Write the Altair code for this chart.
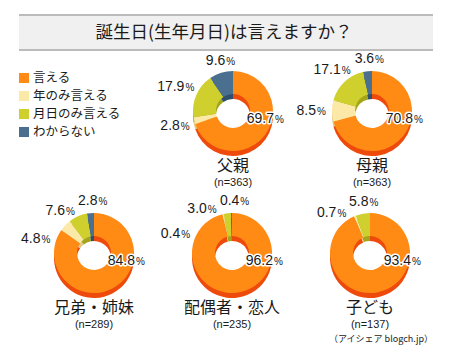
import math
import altair as alt
import pandas as pd

# ---------------- data ----------------
title_text = "誕生日(生年月日)は言えますか？"
source_text = "（アイシェア blogch.jp）"
categories = ["言える", "年のみ言える", "月日のみ言える", "わからない"]
persons = ["父親", "母親", "兄弟・姉妹", "配偶者・恋人", "子ども"]
n_values = [363, 363, 289, 235, 137]
say_all = [69.7, 70.8, 84.8, 96.2, 93.4]
year_only = [2.8, 8.5, 4.8, 0.4, 0.7]
month_day_only = [17.9, 17.1, 7.6, 3.0, 5.8]
unknown = [9.6, 3.6, 2.8, 0.4, 0.0]

# ---------------- style ----------------
colors = ["#FF8A14", "#FCE9A8", "#CFCF2E", "#4B6F8E"]
side_colors = ["#EE4A0C", "#E2CB80", "#A5A51C", "#2F4F6A"]
JP = "Noto Sans CJK JP"
NUM = "Liberation Sans"
PANEL_W, PANEL_H = 138, 142
CX, CY = 75, 60
R_OUT, R_IN, DEPTH = 40, 17, 5
LABEL_RX, LABEL_RY = 64, 52
MAIN_R, MAIN_POS, SEP = 34, 29.0, 10.0
NAME_Y, N_Y = 115, 132


def ellipse_radius(pos):
    a = pos / 100 * 2 * math.pi
    return 1 / math.sqrt((math.sin(a) / LABEL_RX) ** 2 + (math.cos(a) / LABEL_RY) ** 2)


# ---------------- derived table ----------------
series = [say_all, year_only, month_day_only, unknown]
rows = []
for i, p in enumerate(persons):
    vals = [s[i] for s in series]
    total = sum(vals)
    acc = 0.0
    segs = []
    for c, v in zip(categories, vals):
        segs.append(dict(person=p, category=c, value=v,
                         start=acc / total * 100, end=(acc + v) / total * 100,
                         label=f"{v:.1f}"))
        acc += v
    segs[0]["lpos"], segs[0]["lrad"] = MAIN_POS, MAIN_R
    upper = None
    for seg in reversed([s for s in segs[1:] if s["value"] > 0]):
        mid = (seg["start"] + seg["end"]) / 2
        pos = mid if upper is None else min(mid, upper - SEP)
        seg["lpos"], seg["lrad"] = pos, ellipse_radius(pos)
        upper = pos
    rows.extend(segs)
df = pd.DataFrame(rows)
people_df = pd.DataFrame({"person": persons, "nlab": [f"(n={n})" for n in n_values]})

theta_scale = alt.Scale(domain=[0, 100], range=[0, 2 * math.pi])
color_enc = alt.Color("category:N", scale=alt.Scale(domain=categories, range=colors), legend=None)
fill_side = alt.Fill("category:N", scale=alt.Scale(domain=categories, range=side_colors), legend=None)


def donut(p):
    base = alt.Chart(df).transform_filter(alt.datum.person == p)
    side = base.mark_arc(radius=R_OUT, radius2=R_IN).encode(
        theta=alt.Theta("start:Q", scale=theta_scale, stack=None),
        theta2="end:Q", fill=fill_side,
        x=alt.value(CX), y=alt.value(CY + DEPTH))
    top = base.mark_arc(radius=R_OUT, radius2=R_IN).encode(
        theta=alt.Theta("start:Q", scale=theta_scale, stack=None),
        theta2="end:Q", color=color_enc,
        x=alt.value(CX), y=alt.value(CY))
    lab = base.transform_filter("datum.value > 0")
    pos = dict(theta=alt.Theta("lpos:Q", scale=theta_scale),
               radius=alt.Radius("lrad:Q", scale=None),
               x=alt.value(CX), y=alt.value(CY))
    num_halo = lab.mark_text(align="right", baseline="middle", dx=8, font=NUM, fontSize=14,
                             color="white", stroke="white", strokeWidth=3,
                             strokeJoin="round").encode(text="label:N", **pos)
    pct_halo = lab.mark_text(align="left", baseline="middle", dx=9, dy=1, font=NUM, fontSize=10,
                             color="white", stroke="white", strokeWidth=3,
                             strokeJoin="round").encode(text=alt.value("%"), **pos)
    num = lab.mark_text(align="right", baseline="middle", dx=8, font=NUM, fontSize=14,
                        color="#1a1a1a").encode(text="label:N", **pos)
    pct = lab.mark_text(align="left", baseline="middle", dx=9, dy=1, font=NUM, fontSize=10,
                        color="#1a1a1a").encode(text=alt.value("%"), **pos)
    pbase = alt.Chart(people_df).transform_filter(alt.datum.person == p)
    name = pbase.mark_text(font=JP, fontSize=16, color="#1a1a1a", baseline="middle").encode(
        text="person:N", x=alt.value(CX), y=alt.value(NAME_Y))
    nlab = pbase.mark_text(font=NUM, fontSize=11, color="#1a1a1a", baseline="middle").encode(
        text="nlab:N", x=alt.value(CX), y=alt.value(N_Y))
    return alt.layer(side, top, num_halo, pct_halo, num, pct, name, nlab).properties(
        width=PANEL_W, height=PANEL_H)


# legend panel
legend_df = pd.DataFrame({"category": categories})
leg_y = alt.Y("category:N", sort=categories, axis=None,
              scale=alt.Scale(type="point", range=[27, 81], padding=0))
leg_sq = alt.Chart(legend_df).mark_square(size=100, opacity=1).encode(
    y=leg_y, x=alt.value(5), color=color_enc)
leg_tx = alt.Chart(legend_df).mark_text(align="left", baseline="middle", font=JP, fontSize=12.5,
                                        color="#1a1a1a").encode(
    y=leg_y, x=alt.value(14), text="category:N")
legend_panel = alt.layer(leg_sq, leg_tx).properties(width=PANEL_W, height=PANEL_H)

# title panel
title_df = pd.DataFrame({"t": [title_text]})
tb = alt.Chart(title_df)
band = tb.mark_rect(color="#F0F0F0").encode(
    x=alt.value(0), x2=alt.value(414), y=alt.value(0), y2=alt.value(36))
line_top = tb.mark_rule(color="#BBBBBB", strokeWidth=2).encode(
    x=alt.value(0), x2=alt.value(414), y=alt.value(0))
line_bot = tb.mark_rule(color="#BBBBBB", strokeWidth=2).encode(
    x=alt.value(0), x2=alt.value(414), y=alt.value(35))
ttxt = tb.mark_text(font=JP, fontSize=17.5, color="#1a1a1a", baseline="middle").encode(
    text="t:N", x=alt.value(205), y=alt.value(18))
title_panel = alt.layer(band, line_top, line_bot, ttxt).properties(width=414, height=36)

# source panel
src_df = pd.DataFrame({"s": [source_text]})
src_panel = alt.Chart(src_df).mark_text(font=JP, fontSize=9, color="#1a1a1a", align="right",
                                        baseline="middle").encode(
    text="s:N", x=alt.value(414), y=alt.value(4)).properties(width=414, height=16)

row1 = alt.hconcat(legend_panel, donut(persons[0]), donut(persons[1]), spacing=0)
row2 = alt.hconcat(donut(persons[2]), donut(persons[3]), donut(persons[4]), spacing=0)

chart = alt.vconcat(title_panel, row1, row2, src_panel, spacing=0).properties(
    padding={"left": 18, "top": 14, "right": 0, "bottom": 0},
    background="white",
).configure_view(stroke=None).configure_concat(spacing=0)

chart.save("out.html", embed_options={"renderer": "svg", "actions": False})
